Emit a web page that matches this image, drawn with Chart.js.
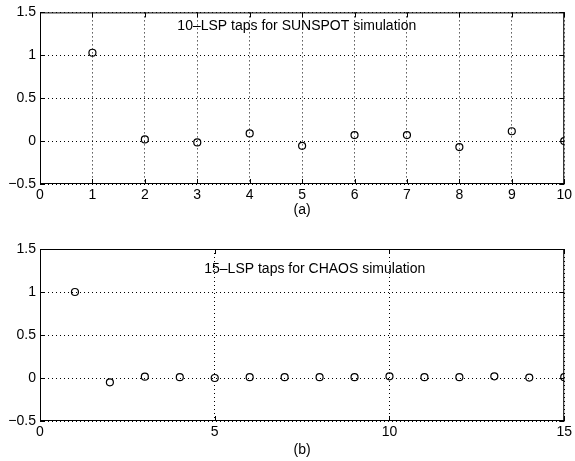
<!DOCTYPE html>
<html>
<head>
<meta charset="utf-8">
<script src="https://cdn.jsdelivr.net/npm/chart.js@4"></script>
<style>
  html, body { margin: 0; padding: 0; background: #fff; }
  #wrap { position: relative; width: 575px; height: 461px; }
  .box { position: absolute; left: 0; width: 575px; }
</style>
</head>
<body>
<div id="wrap">
  <div class="box" style="top:0;height:230px"><canvas id="sunspot"></canvas></div>
  <div class="box" style="top:230px;height:231px"><canvas id="chaos"></canvas></div>
</div>
<script>
// tap index and tap value
const sunspotTaps = [1, 2, 3, 4, 5, 6, 7, 8, 9, 10];
const sunspotValues = [1.03, 0.02, -0.015, 0.09, -0.055, 0.07, 0.07, -0.07, 0.115, 0.0];
const chaosTaps = [1, 2, 3, 4, 5, 6, 7, 8, 9, 10, 11, 12, 13, 14, 15];
const chaosValues = [1.0, -0.05, 0.015, 0.01, 0.0, 0.01, 0.01, 0.01, 0.01, 0.02, 0.01, 0.01, 0.02, 0.005, 0.01];
const yTicks = [-0.5, 0, 0.5, 1, 1.5];

const FONT = { family: '"Liberation Sans", Arial, Helvetica, sans-serif', size: 14 };

// box, inward ticks and the two captions (inside note + panel letter)
const frame = {
  id: 'frame',
  afterDraw(chart, args, opts) {
    const { ctx, chartArea: a, scales } = chart;
    ctx.save();
    ctx.strokeStyle = '#000';
    ctx.lineWidth = 1;
    ctx.strokeRect(a.left + 0.5, a.top + 0.5, a.width - 1, a.height - 1);
    const t = 5;
    ctx.beginPath();
    scales.x.ticks.forEach((tk) => {
      const px = Math.round(scales.x.getPixelForValue(tk.value)) + 0.5;
      ctx.moveTo(px, a.bottom); ctx.lineTo(px, a.bottom - t);
      ctx.moveTo(px, a.top); ctx.lineTo(px, a.top + t);
    });
    scales.y.ticks.forEach((tk) => {
      const py = Math.round(scales.y.getPixelForValue(tk.value)) + 0.5;
      ctx.moveTo(a.left, py); ctx.lineTo(a.left + t, py);
      ctx.moveTo(a.right, py); ctx.lineTo(a.right - t, py);
    });
    ctx.stroke();

    ctx.fillStyle = '#000';
    ctx.font = `${FONT.size}px ${FONT.family}`;
    ctx.textBaseline = 'middle';
    ctx.textAlign = 'left';
    ctx.fillText(opts.note, scales.x.getPixelForValue(opts.noteAt[0]), scales.y.getPixelForValue(opts.noteAt[1]));
    ctx.textAlign = 'center';
    ctx.fillText(opts.letter, (a.left + a.right) / 2, a.bottom + opts.letterGap);
    ctx.restore();
  },
};

function build(id, taps, values, xMax, xStep, padTop, axisHeight, note, noteAt, letter, letterGap) {
  return new Chart(document.getElementById(id), {
    type: 'scatter',
    data: {
      datasets: [{
        data: taps.map((x, i) => ({ x, y: values[i] })),
        pointStyle: 'circle',
        pointRadius: 3.5,
        pointBorderWidth: 1.2,
        pointBorderColor: '#000',
        pointBackgroundColor: 'rgba(0,0,0,0)',
        showLine: false,
      }],
    },
    options: {
      responsive: true,
      maintainAspectRatio: false,
      animation: false,
      layout: { padding: { top: padTop, right: 8, left: 0, bottom: 0 } },
      plugins: {
        legend: { display: false },
        tooltip: { enabled: false },
        frame: { note, noteAt, letter, letterGap },
      },
      scales: {
        x: {
          type: 'linear',
          min: 0,
          max: xMax,
          afterFit: (s) => { s.height = axisHeight; },
          ticks: { stepSize: xStep, color: '#000', font: FONT, padding: 3, maxRotation: 0 },
          grid: { color: '#000', lineWidth: 1, drawTicks: false },
          border: { display: false, dash: [1, 3] },
        },
        y: {
          type: 'linear',
          min: -0.5,
          max: 1.5,
          afterFit: (s) => { s.width = 40; },
          afterBuildTicks: (s) => { s.ticks = yTicks.map((v) => ({ value: v })); },
          ticks: {
            color: '#000',
            font: FONT,
            padding: 4,
            callback: (v) => (v < 0 ? '\u2212' + Math.abs(v) : String(v)),
          },
          grid: { color: '#000', lineWidth: 1, drawTicks: false },
          border: { display: false, dash: [1, 3] },
        },
      },
    },
    plugins: [frame],
  });
}

build('sunspot', sunspotTaps, sunspotValues, 10, 1, 11, 46,
  '10\u2013LSP taps for SUNSPOT simulation', [2.62, 1.34], '(a)', 26);
build('chaos', chaosTaps, chaosValues, 15, 5, 19, 40,
  '15\u2013LSP taps for CHAOS simulation', [4.7, 1.26], '(b)', 29);
</script>
</body>
</html>
